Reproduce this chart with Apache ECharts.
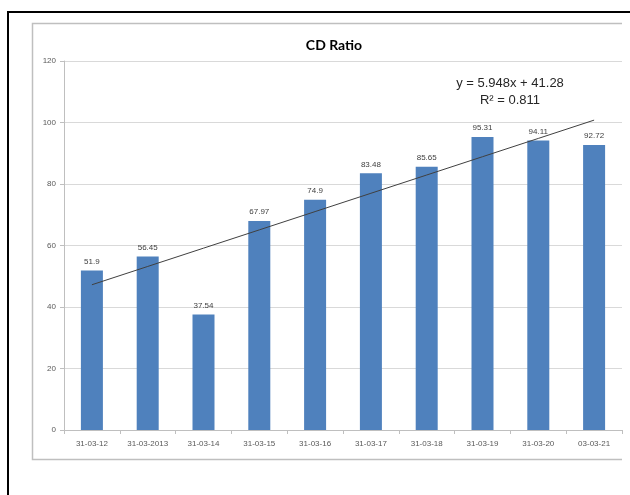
<!DOCTYPE html>
<html>
<head>
<meta charset="utf-8">
<title>CD Ratio</title>
<script src="https://cdn.jsdelivr.net/npm/echarts@6/dist/echarts.min.js"></script>
<style>
  html, body { margin: 0; padding: 0; background: #ffffff; }
  #chart { width: 630px; height: 495px; }
</style>
</head>
<body>
<div id="chart"></div>
<script>
// Period-end dates on the category axis
const categories = ['31-03-12', '31-03-2013', '31-03-14', '31-03-15', '31-03-16',
                    '31-03-17', '31-03-18', '31-03-19', '31-03-20', '03-03-21'];
// Credit-deposit ratio for each period
const cdRatio = [51.9, 56.45, 37.54, 67.97, 74.9, 83.48, 85.65, 95.31, 94.11, 92.72];
// Value axis ticks
const yTicks = [0, 20, 40, 60, 80, 100, 120];
// Trendline legend text
const trendText = ['y = 5.948x + 41.28', 'R\u00B2 = 0.811'];

// Least-squares linear trend over the period index (1..n)
function linearFit(values) {
  const n = values.length;
  let sx = 0, sy = 0, sxy = 0, sxx = 0;
  values.forEach((v, i) => {
    const x = i + 1;
    sx += x; sy += v; sxy += x * v; sxx += x * x;
  });
  const slope = (n * sxy - sx * sy) / (n * sxx - sx * sx);
  const intercept = (sy - slope * sx) / n;
  return values.map((v, i) => slope * (i + 1) + intercept);
}
const trend = linearFit(cdRatio);

const chart = echarts.init(document.getElementById('chart'), null, { renderer: 'canvas' });

const axisFont = 'Liberation Sans, Arial, sans-serif';

chart.setOption({
  backgroundColor: '#ffffff',
  animation: false,
  title: {
    text: 'CD Ratio',
    left: 329,
    textAlign: 'center',
    top: 33,
    textStyle: { fontFamily: 'Lato, Liberation Sans, sans-serif', fontWeight: 'bold', fontSize: 14, color: '#000000' }
  },
  grid: { left: 64, top: 61, width: 558, height: 369, containLabel: false },
  xAxis: {
    type: 'category',
    data: categories,
    boundaryGap: true,
    axisLine: { lineStyle: { color: '#bfbfbf', width: 1 } },
    axisTick: { show: true, alignWithLabel: false, length: 4, lineStyle: { color: '#bfbfbf' } },
    axisLabel: { fontFamily: axisFont, fontSize: 8, color: '#595959', margin: 10, interval: 0 }
  },
  yAxis: {
    type: 'value',
    min: yTicks[0],
    max: yTicks[yTicks.length - 1],
    interval: yTicks[1] - yTicks[0],
    axisLine: { show: true, lineStyle: { color: '#bfbfbf', width: 1 } },
    axisTick: { show: true, length: 4, lineStyle: { color: '#bfbfbf' } },
    axisLabel: { fontFamily: axisFont, fontSize: 8, color: '#595959', margin: 8 },
    splitLine: { show: true, lineStyle: { color: '#d9d9d9', width: 1 } }
  },
  series: [
    {
      name: 'CD Ratio',
      type: 'bar',
      data: cdRatio,
      barWidth: 22,
      itemStyle: { color: '#4f81bd' },
      label: {
        show: true,
        position: 'top',
        distance: 5,
        fontFamily: axisFont,
        fontSize: 8,
        color: '#404040'
      }
    },
    {
      name: 'Linear trend',
      type: 'line',
      data: trend,
      symbol: 'none',
      silent: true,
      z: 5,
      lineStyle: { color: '#404040', width: 1 }
    }
  ],
  graphic: [
    {
      type: 'rect',
      shape: { x: 8, y: 12, width: 700, height: 600 },
      style: { fill: 'none', stroke: '#000000', lineWidth: 2 },
      silent: true
    },
    {
      type: 'polyline',
      shape: { points: [[622, 23.5], [32.5, 23.5], [32.5, 459.5], [622, 459.5]] },
      style: { fill: 'none', stroke: '#bfbfbf', lineWidth: 1.5 },
      silent: true
    },
    {
      type: 'text',
      x: 510, y: 83,
      style: {
        text: trendText[0], textAlign: 'center', textVerticalAlign: 'middle',
        fontFamily: 'Liberation Sans, Arial, sans-serif', fontSize: 13, fill: '#262626'
      }
    },
    {
      type: 'text',
      x: 510, y: 100,
      style: {
        text: trendText[1], textAlign: 'center', textVerticalAlign: 'middle',
        fontFamily: 'Liberation Sans, Arial, sans-serif', fontSize: 13, fill: '#262626'
      }
    }
  ]
});
</script>
</body>
</html>
